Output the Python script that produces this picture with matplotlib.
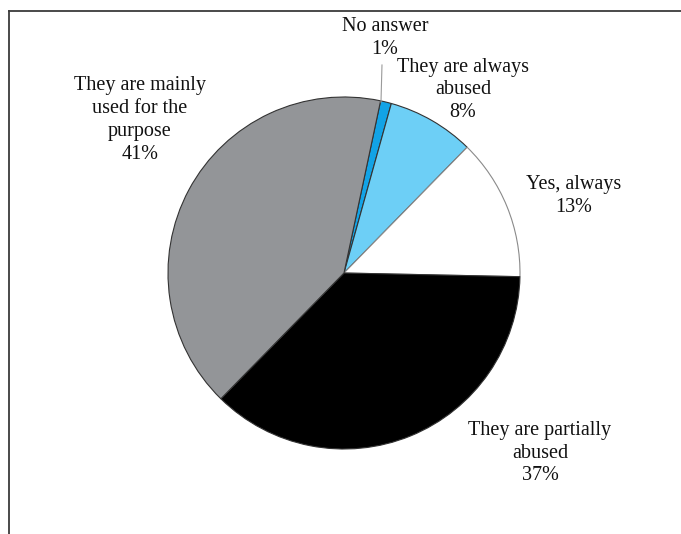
import numpy as np
import matplotlib.pyplot as plt

labels = ["No answer", "They are always\nabused", "Yes, always",
          "They are partially\nabused", "They are mainly\nused for the\npurpose"]
shares = [1, 8, 13, 37, 41]
colors = ["#12a3e6", "#6dcff6", "#ffffff", "#000000", "#939598"]

# label anchor points in pixel space (x, y measured from the top)
label_pos = [(385, 38), (463, 90), (574, 196), (540, 453), (140, 120)]

W, H = 681, 534
fig = plt.figure(figsize=(W / 100, H / 100), dpi=100)
ax = fig.add_axes([0, 0, 1, 1])

cx, cy, r = 344, H - 273, 176
wedges, _ = ax.pie(shares, colors=colors, startangle=78, counterclock=False,
                   center=(cx, cy), radius=r, frame=True,
                   wedgeprops=dict(edgecolor="#333333", linewidth=0.8))
wedges[2].set_edgecolor("#8a8a8a")
ax.set_xlim(0, W)
ax.set_ylim(0, H)
ax.set_aspect("equal")
ax.axis("off")

for lab, val, (x, y) in zip(labels, shares, label_pos):
    ax.text(x, H - y, f"{lab}\n{val}%", ha="center", va="center",
            family="Liberation Serif", fontsize=14.5, linespacing=1.28,
            color="#111111")

# leader line for the thin first slice
w0 = wedges[0]
mid = np.deg2rad((w0.theta1 + w0.theta2) / 2)
ex, ey = cx + r * np.cos(mid), cy + r * np.sin(mid)
ax.plot([ex - 5, ex - 4], [ey, H - 65], color="#9a9a9a", lw=0.8)

# frame lines along the top and left
ax.plot([8.5, W], [H - 10.5, H - 10.5], color="#3c3c3c", lw=1.3)
ax.plot([8.5, 8.5], [0, H - 10.5], color="#3c3c3c", lw=1.3)

fig.savefig("out.png", dpi=100)
